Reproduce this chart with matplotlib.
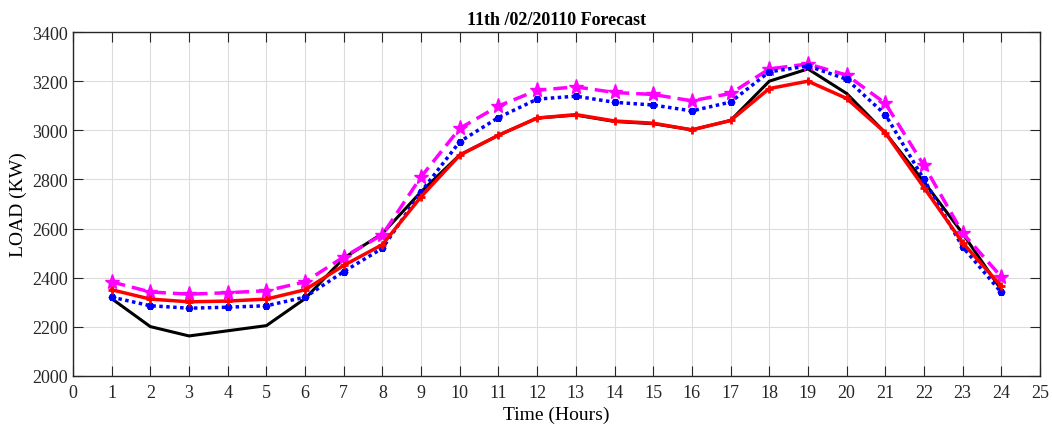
import numpy as np
import matplotlib
matplotlib.use("Agg")
import matplotlib.pyplot as plt

plt.rcParams['font.family'] = ['Liberation Serif', 'DejaVu Serif']

hours = np.arange(1, 25)

actual = [2315, 2201, 2163, 2184, 2205, 2315, 2480, 2580, 2750, 2900, 2980, 3050,
          3062, 3036, 3027, 3002, 3040, 3200, 3250, 3150, 2990, 2790, 2580, 2350]
forecast_red = [2351, 2313, 2302, 2305, 2313, 2351, 2450, 2535, 2730, 2899, 2980, 3050,
                3064, 3038, 3029, 3002, 3040, 3170, 3200, 3130, 2990, 2767, 2542, 2365]
forecast_blue = [2321, 2286, 2276, 2280, 2286, 2321, 2425, 2520, 2750, 2954, 3052, 3127,
                 3139, 3114, 3103, 3079, 3115, 3238, 3262, 3208, 3064, 2800, 2525, 2340]
forecast_mag = [2383, 2342, 2333, 2339, 2347, 2383, 2485, 2575, 2811, 3008, 3099, 3163,
                3177, 3154, 3146, 3120, 3150, 3250, 3270, 3225, 3110, 2857, 2582, 2403]

fig = plt.figure(figsize=(10.53, 4.31), dpi=100)
ax = fig.add_axes([0.0693, 0.1253, 0.9184, 0.798])

ax.plot(hours, actual, color='black', lw=2.2)
ax.plot(hours, forecast_mag, color='magenta', lw=2.5, ls=(0, (4, 2)),
        marker='*', ms=11)
ax.plot(hours, forecast_blue, color='blue', lw=2.5, ls=(0, (1, 1)),
        marker=(6, 2, 0), ms=5, mew=2.5)
ax.plot(hours, forecast_red, color='red', lw=2.5, marker='+', ms=6, mew=2)

ax.set_xlim(0, 25)
ax.set_ylim(2000, 3400)
ax.set_xticks(range(0, 26))
ax.set_yticks(range(2000, 3401, 200))
ax.tick_params(direction='in', top=True, right=True, labelsize=13, length=7,
               colors='#262626')
ax.tick_params(axis='x', pad=6)
ax.grid(True, color='#dcdcdc', lw=0.8)
ax.set_axisbelow(True)
for s in ax.spines.values():
    s.set_linewidth(1.0)
    s.set_color('#262626')

ax.set_xlabel('Time (Hours)', fontsize=14, labelpad=3)
ax.set_ylabel('LOAD (KW)', fontsize=14, labelpad=4)
ax.set_title('11th /02/20110 Forecast', fontsize=13, fontweight='bold', pad=6)

fig.savefig('out.png', dpi=100)
